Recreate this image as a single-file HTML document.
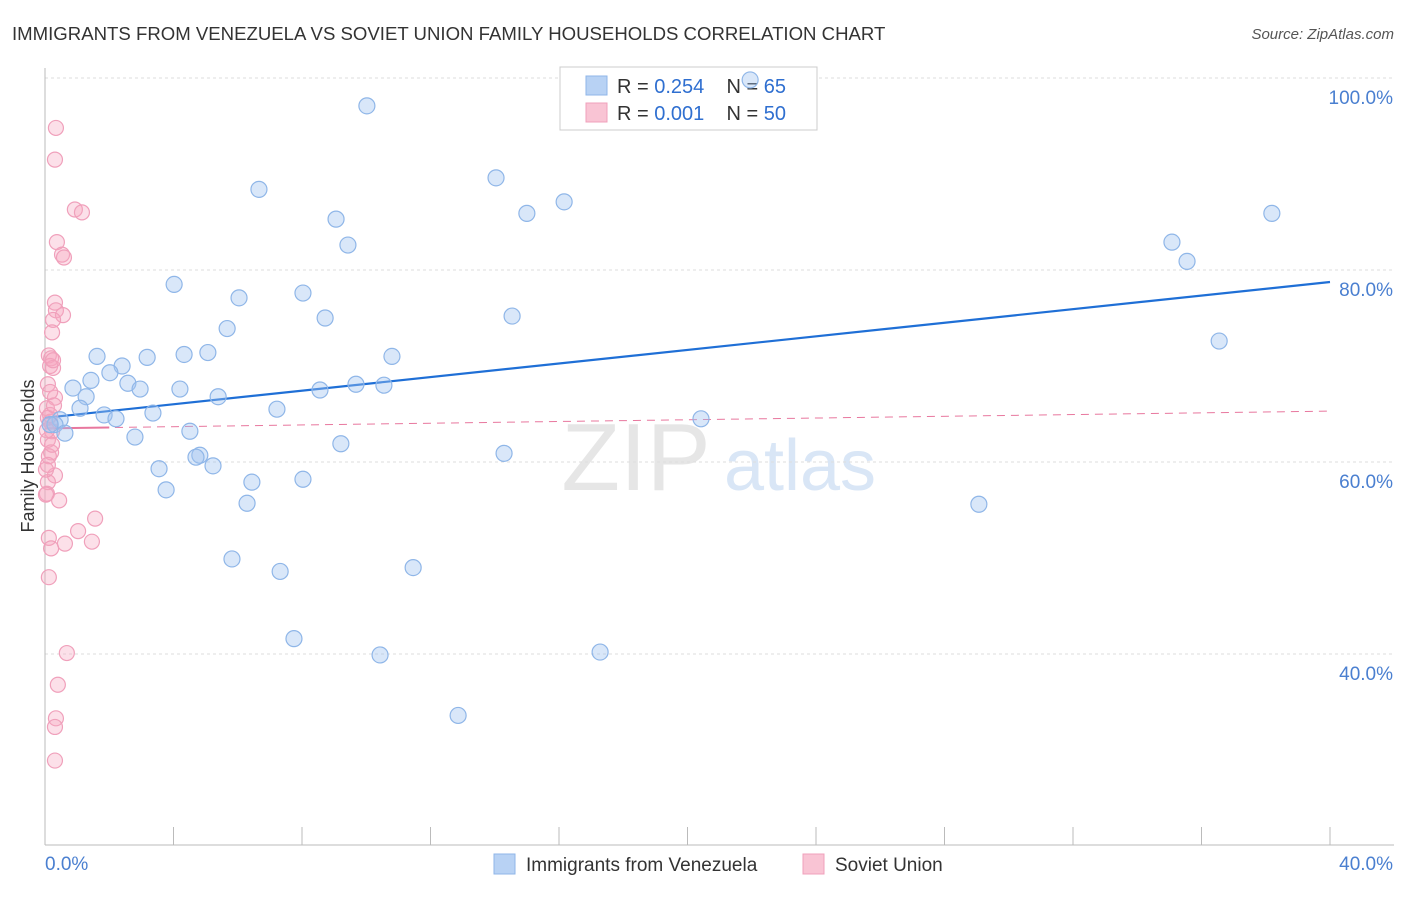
<!DOCTYPE html>
<html><head><meta charset="utf-8"><style>
body{margin:0;background:#fff;font-family:"Liberation Sans",sans-serif}
svg text{font-family:"Liberation Sans",sans-serif}
.pre{white-space:pre}
</style></head><body>
<svg id="chart" width="1406" height="892" xmlns="http://www.w3.org/2000/svg">
<text x="12" y="40" font-size="18.6" fill="#333">IMMIGRANTS FROM VENEZUELA VS SOVIET UNION FAMILY HOUSEHOLDS CORRELATION CHART</text>
<text x="1394" y="39" font-size="15" fill="#555" font-style="italic" text-anchor="end">Source: ZipAtlas.com</text>
<g>
<text x="636" y="490" font-size="96" fill="#e6e6e6" font-family="Liberation Serif" text-anchor="middle">ZIP</text>
<text x="800" y="490" font-size="72" fill="#d9e6f6" text-anchor="middle">atlas</text>
</g>
<g id="grid"></g><g id="axes"></g>
<text transform="translate(34,456) rotate(-90)" font-size="18" fill="#333" text-anchor="middle">Family Households</text>
<g>
<rect x="560" y="67" width="257" height="63" fill="#fff" stroke="#ccc"/>
<rect x="586" y="76" width="21" height="19" fill="#b8d2f4" stroke="#8fb6e8"/>
<rect x="586" y="103" width="21" height="19" fill="#f9c4d4" stroke="#f0a0bb"/>
<text class="pre" x="617" y="93" font-size="20" fill="#333">R = <tspan fill="#2f6fd0">0.254</tspan>    N = <tspan fill="#2f6fd0">65</tspan></text>
<text class="pre" x="617" y="120" font-size="20" fill="#333">R = <tspan fill="#2f6fd0">0.001</tspan>    N = <tspan fill="#2f6fd0">50</tspan></text>
</g>
<g id="trends"></g><g id="points"></g>
<g>
<rect x="494" y="854" width="21" height="20" fill="#b8d2f4" stroke="#8fb6e8"/>
<text x="526" y="871" font-size="19" fill="#333">Immigrants from Venezuela</text>
<rect x="803" y="854" width="21" height="20" fill="#f9c4d4" stroke="#f0a0bb"/>
<text x="835" y="871" font-size="19" fill="#333">Soviet Union</text>
</g>
</svg>
<script>
const blueX=[21.95,10.02,6.66,14.04,9.06,15.00,16.16,9.43,38.19,35.08,35.55,4.02,6.04,8.03,8.72,14.54,5.67,36.55,1.62,3.18,4.33,5.07,10.80,2.40,2.02,1.43,0.87,2.58,2.96,4.20,5.39,8.56,9.68,10.55,1.28,1.09,1.84,2.21,3.36,7.22,20.42,0.47,0.31,0.62,2.80,4.51,9.21,4.82,4.70,5.23,3.55,14.29,3.77,6.44,8.03,6.29,29.07,5.82,7.32,11.46,7.75,10.43,17.28,12.86,0.16];
const blueY=[99.8,97.1,88.4,89.6,85.3,85.9,87.1,82.6,85.9,82.9,80.9,78.5,77.1,77.6,75.0,75.2,73.9,72.6,71.0,70.9,71.2,71.4,71.0,70.0,69.3,68.5,67.7,68.2,67.6,67.6,66.8,67.5,68.1,68.0,66.8,65.6,64.9,64.5,65.1,65.5,64.5,64.4,63.9,63.0,62.6,63.2,61.9,60.7,60.5,59.6,59.3,60.9,57.1,57.9,58.2,55.7,55.6,49.9,48.6,49.0,41.6,39.9,40.2,33.6,63.9];
const pinkX=[0.34,0.31,0.93,1.15,0.37,0.53,0.59,0.31,0.34,0.56,0.25,0.22,0.12,0.19,0.16,0.25,0.09,0.31,0.16,0.06,0.09,0.16,0.22,0.09,0.19,0.12,0.31,0.09,0.06,0.44,1.56,1.03,1.46,0.62,0.12,0.19,0.12,0.68,0.40,0.34,0.31,0.31,0.03,0.16,0.06,0.22,0.28,0.09,0.03,0.25];
const pinkY=[94.8,91.5,86.3,86.0,82.9,81.6,81.3,76.6,75.8,75.3,74.8,73.5,71.1,70.8,70.0,69.8,68.1,66.7,67.3,65.6,64.6,64.2,63.2,62.3,61.0,60.6,58.6,57.9,56.7,56.0,54.1,52.8,51.7,51.5,52.1,51.0,48.0,40.1,36.8,33.3,32.4,28.9,56.6,64.9,63.3,61.8,65.9,59.7,59.2,70.6];
const yTicks=[40,60,80,100];
const yTickLabels=["40.0%","60.0%","80.0%","100.0%"];
const xTicks=[0,4,8,12,16,20,24,28,32,36,40];
const blueTrend=[64.6,78.75];
const pinkTrend=[63.5,65.3];
const X=v=>45+v*32.125, Y=v=>78+(100-v)*9.6;
const NS="http://www.w3.org/2000/svg";
function mk(p,t,a){const e=document.createElementNS(NS,t);for(const k in a)e.setAttribute(k,a[k]);p.appendChild(e);return e;}
const grid=document.getElementById('grid'),axes=document.getElementById('axes'),tr=document.getElementById('trends'),pts=document.getElementById('points');
yTicks.forEach((t,i)=>{
 const l=mk(grid,'line',{x1:45,x2:1394,y1:Y(t),y2:Y(t),stroke:'#ddd','stroke-dasharray':'3,3'});
 
 
 const tx=mk(axes,'text',{x:1393,y:Y(t)+26,'font-size':19,fill:'#4a7fd0','text-anchor':'end'});tx.textContent=yTickLabels[i];
 
 
});
const ax=mk(axes,'line',{x1:45,x2:1394,y1:845,y2:845,stroke:'#bbb'});


const ay=mk(axes,'line',{x1:45,x2:45,y1:68,y2:845,stroke:'#bbb'});


xTicks.forEach(t=>{const l=mk(axes,'line',{x1:X(t),x2:X(t),y1:827,y2:845,stroke:'#bbb'});
 
 });
[[0,'start','0.0%'],[40,'end','40.0%']].forEach(a=>{const t=mk(axes,'text',{x:a[0]==0?45:1393,y:870,'font-size':19,fill:'#4a7fd0','text-anchor':a[1]});t.textContent=a[2];
 
 });
pinkX.forEach((x,i)=>{const c=mk(pts,'circle',{cx:X(x),cy:Y(pinkY[i]),r:7.5,fill:'rgba(245,165,192,0.35)',stroke:'#f0a0bb','stroke-width':1.2});
 
 });
blueX.forEach((x,i)=>{const c=mk(pts,'circle',{cx:X(x),cy:Y(blueY[i]),r:8,fill:'rgba(160,196,240,0.4)',stroke:'#8fb6e8','stroke-width':1.2});
 
 });
const pd=mk(tr,'line',{x1:X(0),y1:Y(pinkTrend[0]),x2:X(40),y2:Y(pinkTrend[1]),stroke:'#e8779e','stroke-width':1,'stroke-dasharray':'8,6'});


const ps=(pinkTrend[1]-pinkTrend[0])/40;
const pl=mk(tr,'line',{x1:X(0),y1:Y(pinkTrend[0]),x2:X(2),y2:Y(pinkTrend[0]+ps*2),stroke:'#e8779e','stroke-width':2});


const bl=mk(tr,'line',{x1:X(0),y1:Y(blueTrend[0]),x2:X(40),y2:Y(blueTrend[1]),stroke:'#1f6fd6','stroke-width':2.2});


</script>
</body></html>
